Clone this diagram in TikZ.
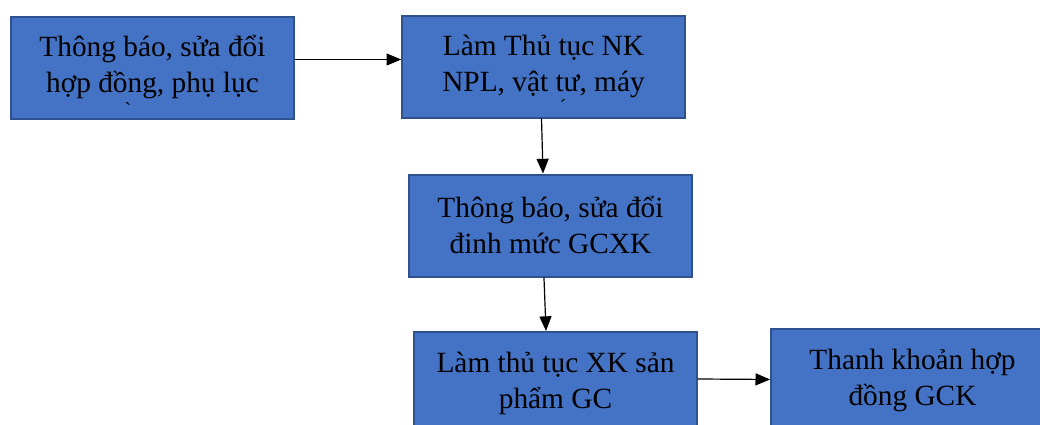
\documentclass[tikz,border=0pt]{standalone}
\usepackage{fontspec}
\setmainfont{Liberation Serif}
\newfontfamily\rawserif{Liberation Serif}
\usetikzlibrary{arrows.meta}
\definecolor{boxfill}{HTML}{4472C4}
\definecolor{boxline}{HTML}{2F528F}
\tikzset{
  stepbox/.style={draw=boxline, line width=1.5pt, fill=boxfill,
    minimum width=212pt, minimum height=76.5pt, inner sep=0pt,
    align=center, font=\fontsize{22}{27}\selectfont, text=black},
  arr/.style={line width=0.9pt, -{Triangle[length=11pt,width=9pt]}},
  stray/.style={inner sep=0pt, font=\rawserif\fontsize{15}{15}\selectfont}
}
\begin{document}
\begin{tikzpicture}[x=0.75pt, y=-0.75pt]
  \useasboundingbox[fill=white] (0,0) rectangle (1040,425);
  \begin{scope}
    \clip (0,0) rectangle (1040,425);
    \node[stepbox] (b1) at (152.5,67.5) {Thông báo, sửa đổi\\hợp đồng, phụ lục};
    \node[stepbox] (b2) at (543.5,66.5) {Làm Thủ tục NK\\NPL, vật tư, máy};
    \node[stepbox] (b3) at (550.5,225.5) {Thông báo, sửa đổi\\đinh mức GCXK};
    \node[stepbox] (b4) at (555.5,383) {Làm thủ tục XK sản\\phẩm GC};
    \node[stepbox] (b5) at (912.5,380) {Thanh khoản hợp\\đồng GCK};
    % loose diacritics left under the text lines
    \node[stray] (g1) at (128,110) {`};
    \node[stray] (a2) at (563,107) {´};
    % connectors
    \draw[arr] ([yshift=6pt]b1.east) -- ([yshift=5.25pt]b2.west);
    \draw[arr] ([xshift=-1.5pt]b2.south) -- ([xshift=-5.6pt]b3.north);
    \draw[arr] ([xshift=-4.9pt]b3.south) -- ([xshift=-7.1pt]b4.north);
    \draw[arr] ([yshift=3pt]b4.east) -- ([yshift=0.4pt]b5.west);
  \end{scope}
\end{tikzpicture}
\end{document}
